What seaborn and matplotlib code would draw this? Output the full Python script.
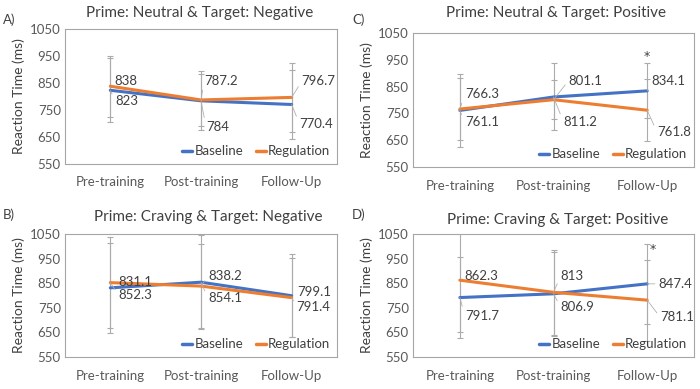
import numpy as np
import pandas as pd
import seaborn as sns
import matplotlib.pyplot as plt
from matplotlib.lines import Line2D

# categorias e valores
categorias = ['Pre-training', 'Post-training', 'Follow-Up']

a_baseline = [823, 784, 770.4]
a_regulation = [838, 787.2, 796.7]
a_baseline_err = [118, 109, 127]
a_regulation_err = [113, 96, 128]

b_baseline = [831.1, 854.1, 799.1]
b_regulation = [852.3, 838.2, 791.4]
b_baseline_err = [183, 190, 168]
b_regulation_err = [185, 172, 162]

c_baseline = [761.1, 811.2, 834.1]
c_regulation = [766.3, 801.1, 761.8]
c_baseline_err = [135, 125, 103]
c_regulation_err = [116, 72, 115]

d_baseline = [791.7, 806.9, 847.4]
d_regulation = [862.3, 813, 781.1]
d_baseline_err = [165, 170, 163]
d_regulation_err = [210, 172, 165]

titulos = {'A': 'Prime: Neutral & Target: Negative',
           'B': 'Prime: Craving & Target: Negative',
           'C': 'Prime: Neutral & Target: Positive',
           'D': 'Prime: Craving & Target: Positive'}

# asterisco de significancia (painel, categoria)
asteriscos = {'C': 2, 'D': 2}

sns.set_theme(style='white')
plt.rcParams['font.family'] = ['Lato', 'DejaVu Sans']

cor_base = '#4472C4'
cor_reg = '#ED7D31'
cor_erro = '#ABABAB'
cor_texto = '#404040'

# deslocamento dos rotulos em pixels (dx, dy)
offsets = {
    'A': ([(5, -11), (5, -26), (8, -20)], [(4, 5), (3, 19), (10, 16)]),
    'B': ([(8, 6), (7, -16), (6, 4)], [(8, -12), (7, 10), (5, -9)]),
    'C': ([(5, -12), (10, -25), (4, 10)], [(5, 15), (15, 19), (10, -22)]),
    'D': ([(5, -18), (7, -13), (11, 0)], [(5, 4), (7, 16), (13, -17)]),
}

paineis = {
    'A': (a_baseline, a_regulation, a_baseline_err, a_regulation_err),
    'B': (b_baseline, b_regulation, b_baseline_err, b_regulation_err),
    'C': (c_baseline, c_regulation, c_baseline_err, c_regulation_err),
    'D': (d_baseline, d_regulation, d_baseline_err, d_regulation_err),
}

# posicao dos eixos em pixels: (esquerda, topo, direita, base)
W, H = 700, 389
caixas = {'A': (65, 29, 337, 164), 'C': (413, 33, 694, 167),
          'B': (65, 234, 337, 357), 'D': (413, 234, 694, 357)}
pos_titulo = {'A': (200, 13), 'C': (556, 13), 'B': (208, 217), 'D': (558, 220)}
pos_letra = {'A': (3, 20), 'C': (352, 20), 'B': (3, 215), 'D': (352, 215)}

fig = plt.figure(figsize=(7, 3.89), dpi=100)

for p, (base, reg, base_err, reg_err) in paineis.items():
    l, t, r, b = caixas[p]
    ax = fig.add_axes([l / W, 1 - b / H, (r - l) / W, (b - t) / H])

    df = pd.DataFrame({
        'Fase': categorias * 2,
        'RT': base + reg,
        'Grupo': ['Baseline'] * 3 + ['Regulation'] * 3,
    })
    x = np.arange(len(categorias))

    ax.errorbar(x, base, yerr=base_err, fmt='none', ecolor=cor_erro,
                elinewidth=0.8, capsize=2, capthick=0.8, zorder=1)
    ax.errorbar(x, reg, yerr=reg_err, fmt='none', ecolor=cor_erro,
                elinewidth=0.8, capsize=2, capthick=0.8, zorder=1)
    sns.lineplot(data=df, x='Fase', y='RT', hue='Grupo', sort=False,
                 palette=[cor_base, cor_reg], linewidth=2.2, ax=ax,
                 legend=False, zorder=3)

    # rotulos de dados
    for serie, vals in ((0, base), (1, reg)):
        for i, v in enumerate(vals):
            dx, dy = offsets[p][serie][i]
            leader = abs(dy) > 8 or dx > 9
            ax.annotate(f'{v:g}', xy=(i, v), xytext=(dx, dy),
                        textcoords='offset pixels', ha='left', va='center',
                        fontsize=9.5, color=cor_texto, zorder=4,
                        arrowprops=dict(arrowstyle='-', color='#B0B0B0', lw=0.6,
                                        shrinkA=0, shrinkB=0, relpos=(0, 0.5))
                        if leader else None)

    if p in asteriscos:
        i = asteriscos[p]
        topo = max(base[i] + base_err[i], reg[i] + reg_err[i])
        ax.annotate('*', xy=(i, min(topo, 1050)),
                    xytext=(0 if p == 'C' else 6, 0 if p == 'C' else -12),
                    textcoords='offset pixels', ha='center', va='bottom',
                    fontsize=9, color=cor_texto, family='DejaVu Sans')

    ax.set_xlim(-0.5, 2.5)
    ax.set_ylim(550, 1050)
    ax.set_yticks(np.arange(550, 1051, 100))
    ax.set_xticks(x)
    ax.set_xticklabels(categorias)
    ax.set_xlabel('')
    ax.set_ylabel('Reaction Time (ms)', fontsize=10, color=cor_texto, labelpad=4)
    ax.tick_params(axis='both', length=0, labelsize=9.5, labelcolor='#595959', pad=3)
    ax.tick_params(axis='x', pad=9)
    for s in ax.spines.values():
        s.set_color('#A6A6A6')
        s.set_linewidth(0.8)

    handles = [Line2D([0], [0], color=cor_base, lw=2.5),
               Line2D([0], [0], color=cor_reg, lw=2.5)]
    ax.legend(handles, ['Baseline', 'Regulation'], loc='lower right', ncol=2,
              frameon=False, handlelength=0.7, handletextpad=0.2,
              columnspacing=1.0, borderaxespad=0.1, fontsize=9.5,
              labelcolor=cor_texto)

    tx, ty = pos_titulo[p]
    fig.text(tx / W, 1 - ty / H, titulos[p], ha='center', va='center',
             fontsize=11, color=cor_texto)
    lx, ly = pos_letra[p]
    fig.text(lx / W, 1 - ly / H, p + ')', ha='left', va='center',
             fontsize=9.5, color=cor_texto)

fig.savefig('out.png', dpi=100)
